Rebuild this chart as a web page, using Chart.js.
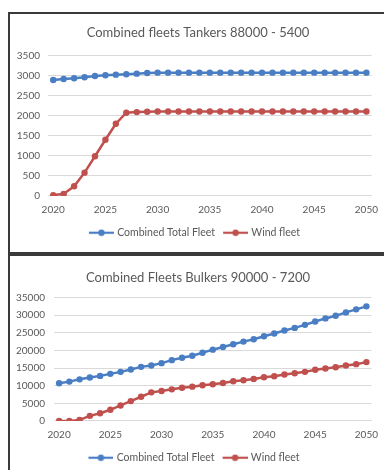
<!DOCTYPE html>
<html><head><meta charset="utf-8">
<script src="https://cdn.jsdelivr.net/npm/chart.js@4"></script>
<style>
html,body{margin:0;padding:0;background:#fff;overflow:hidden;width:384px;height:470px;}
.box{position:absolute;left:8px;border:2px solid #3a3a3a;border-right:none;background:#fff;}
#b1{top:12px;width:376px;height:238px;}
#b2{top:254px;width:376px;height:230px;border-bottom:none;}
canvas{display:block;}
</style></head><body>
<div class="box" id="b1"><div style="width:376px;height:238px;position:relative"><canvas id="c1"></canvas></div></div>
<div class="box" id="b2"><div style="width:376px;height:222px;position:relative"><canvas id="c2"></canvas></div></div>
<script>
const years = [2020,2021,2022,2023,2024,2025,2026,2027,2028,2029,2030,2031,2032,2033,2034,2035,2036,2037,2038,2039,2040,2041,2042,2043,2044,2045,2046,2047,2048,2049,2050];
const tankerTotal = [2890,2915,2935,2960,2990,3010,3025,3035,3050,3065,3075,3075,3075,3075,3075,3075,3075,3075,3075,3075,3075,3075,3075,3075,3075,3075,3075,3075,3075,3075,3075];
const tankerWind = [20,50,240,580,990,1400,1800,2075,2090,2100,2105,2105,2105,2105,2105,2105,2105,2105,2105,2105,2105,2105,2105,2105,2105,2105,2105,2105,2105,2105,2105];
const bulkerTotal = [10670,11150,11800,12300,12780,13350,13920,14580,15340,15720,16400,17250,17930,18500,19360,20220,20960,21740,22510,23170,24020,24800,25650,26400,27260,28230,29090,29830,30800,31660,32520];
const bulkerWind = [0,0,290,1430,2190,3150,4390,5620,6860,8100,8480,8960,9400,9720,10100,10390,10770,11250,11540,11920,12390,12680,13160,13540,13920,14500,14870,15250,15730,16110,16690];
const titles = ["Combined fleets Tankers 88000 - 5400", "Combined Fleets Bulkers 90000 - 7200"];
const seriesNames = ["Combined Total Fleet", "Wind fleet"];
const tankerMax = 3500, tankerStep = 500;
const bulkerMax = 35000, bulkerStep = 5000;

const BLUE = '#4A7EC4', RED = '#C0504D', TXT = '#595959', GRID = '#d9d9d9';
const FONT = 'Lato, "Open Sans", sans-serif';
const ICON_PAD = 6, ICON_LEN = 25;

function legendIcon(color){
  const c = document.createElement('canvas'); c.width = ICON_PAD + ICON_LEN; c.height = 8;
  const g = c.getContext('2d');
  g.strokeStyle = color; g.lineWidth = 2.2;
  g.beginPath(); g.moveTo(ICON_PAD,4); g.lineTo(ICON_PAD + ICON_LEN,4); g.stroke();
  g.fillStyle = color; g.beginPath(); g.arc(ICON_PAD + ICON_LEN/2,4,3.2,0,Math.PI*2); g.fill();
  return c;
}
const icons = [legendIcon(BLUE), legendIcon(RED)];

// center the title on the whole canvas (like the spreadsheet chart), not on the padded area
const centerTitle = {
  id: 'centerTitle',
  afterLayout(chart){
    const t = chart.titleBlock;
    if (t) { t.left = 0; t.right = chart.width; }
  }
};

function makeChart(id, title, total, wind, ymax, ystep, cfg){
  return new Chart(document.getElementById(id), {
    type: 'line',
    plugins: [centerTitle],
    data: {
      labels: years,
      datasets: [
        {label: seriesNames[0], data: total, borderColor: BLUE, backgroundColor: BLUE, borderWidth: 2.5, pointRadius: 3.2, pointStyle: 'circle', pointBackgroundColor: BLUE, pointBorderWidth: 0, tension: 0},
        {label: seriesNames[1], data: wind, borderColor: RED, backgroundColor: RED, borderWidth: 2.5, pointRadius: 3.2, pointStyle: 'circle', pointBackgroundColor: RED, pointBorderWidth: 0, tension: 0}
      ]
    },
    options: {
      responsive: true, maintainAspectRatio: false, animation: false,
      layout: {padding: {left: 0, right: cfg.right, top: 0, bottom: cfg.bottom}},
      plugins: {
        title: {display: true, text: title, color: TXT, font: {family: FONT, size: 13, weight: 'normal'}, padding: {top: cfg.tTop, bottom: cfg.tBot}},
        legend: {position: 'bottom', labels: {usePointStyle: true, pointStyleWidth: ICON_PAD + ICON_LEN - 4, color: TXT, font: {family: FONT, size: 10.5}, padding: 4,
          generateLabels: (ch) => ch.data.datasets.map((d, i) => ({text: d.label, pointStyle: icons[i], fillStyle: d.borderColor, strokeStyle: d.borderColor, lineWidth: 0, datasetIndex: i, fontColor: TXT}))}},
        tooltip: {enabled: false}
      },
      scales: {
        x: {type: 'category', offset: true,
          grid: {display: false, drawTicks: false},
          border: {display: true, color: GRID, width: 1},
          ticks: {autoSkip: false, maxRotation: 0, color: TXT, font: {family: FONT, size: 10}, padding: cfg.xPad,
            callback: function(v, i){ return years[i] % 5 === 0 ? String(years[i]) : ''; }}},
        y: {min: 0, max: ymax,
          grid: {color: GRID, drawTicks: false, lineWidth: 1},
          border: {display: false},
          ticks: {stepSize: ystep, color: TXT, font: {family: FONT, size: 10}, padding: cfg.yPad, callback: (v) => String(v)},
          afterFit: (s) => { s.width = cfg.yW; }}
      }
    }
  });
}
makeChart('c1', titles[0], tankerTotal, tankerWind, tankerMax, tankerStep, {right: 11, bottom: 4, tTop: 11, tBot: 15, xPad: 7.8, yPad: 8, yW: 38});
makeChart('c2', titles[1], bulkerTotal, bulkerWind, bulkerMax, bulkerStep, {right: 12, bottom: 5, tTop: 14, tBot: 12, xPad: 7.8, yPad: 9, yW: 44});
</script>
</body></html>
